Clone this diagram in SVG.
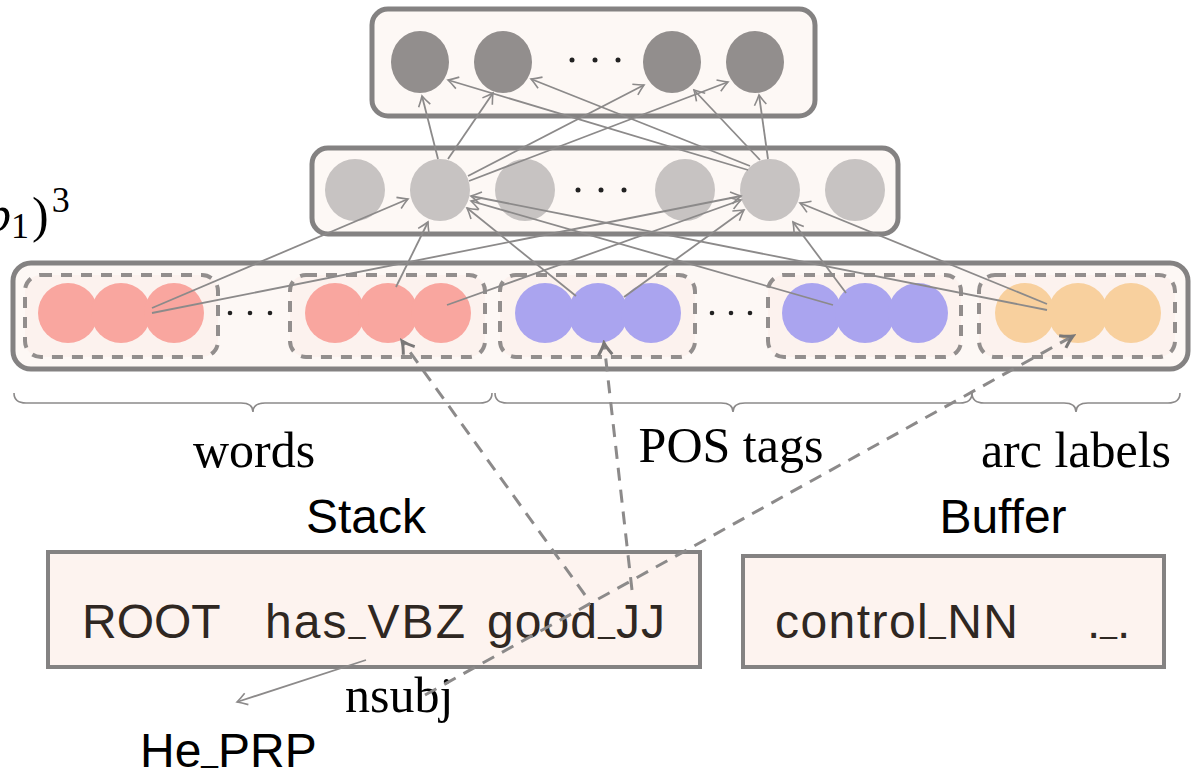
<svg xmlns="http://www.w3.org/2000/svg" width="1194" height="775" viewBox="0 0 1194 775">
<style>
.box{fill:#fdf8f5;stroke:#848282;stroke-width:5}
.grp{fill:#fcf2ee;stroke:#928e8d;stroke-width:4;stroke-dasharray:11 9}
.top{fill:#928e8d}
.mid{fill:#c7c3c2}
.pink{fill:#f9a69f}
.blue{fill:#aaa4ef}
.org{fill:#f8d09e}
.dot{fill:#222}
.ln{stroke:#8c8a8a;stroke-width:1.8;fill:none;marker-end:url(#ah)}
.dl{stroke:#8c8a8a;stroke-width:3;stroke-dasharray:13 9;fill:none;marker-end:url(#dh)}
.brace{stroke:#8c8a8a;stroke-width:1.6;fill:none}
.tm{font-family:'Liberation Serif',serif;font-size:50px;fill:#000}
.sf{font-family:'Liberation Sans',Arial,sans-serif;font-size:48px;fill:#000}
.bx{font-family:'Liberation Sans',Arial,sans-serif;font-size:48px;fill:#2f2722}
.us{font-size:30px}
.sbox{fill:#fdf3ef;stroke:#848282;stroke-width:4}
</style>
<defs>
<marker id="ah" viewBox="0 0 14 14" refX="12" refY="7" markerWidth="14" markerHeight="14" orient="auto" markerUnits="userSpaceOnUse">
<path d="M2,1 Q8,5 12,7 Q8,9 2,13" fill="none" stroke="#8c8a8a" stroke-width="1.6"/>
</marker>
<marker id="dh" viewBox="0 0 18 18" refX="15" refY="9" markerWidth="18" markerHeight="18" orient="auto" markerUnits="userSpaceOnUse">
<path d="M3,2 Q10,7 15,9 Q10,11 3,16" fill="none" stroke="#7a7878" stroke-width="3"/>
</marker>
</defs>

<g id="partial-formula">
<text class="tm" x="-14" y="231"><tspan font-style="italic">b</tspan><tspan font-size="36" dy="7">1</tspan><tspan dx="3" dy="-6">)</tspan><tspan font-size="36" dx="3" dy="-20">3</tspan></text>
</g>

<g id="output-layer">
<rect class="box" x="372" y="9" width="443" height="107" rx="16"/>
<ellipse class="top" cx="420" cy="62" rx="29" ry="31"/>
<ellipse class="top" cx="503" cy="62" rx="29" ry="31"/>
<circle class="dot" cx="572" cy="60" r="2.5"/>
<circle class="dot" cx="595" cy="60" r="2.5"/>
<circle class="dot" cx="618" cy="60" r="2.5"/>
<ellipse class="top" cx="672" cy="62" rx="29" ry="31"/>
<ellipse class="top" cx="755" cy="62" rx="29" ry="31"/>
</g>

<g id="hidden-layer">
<rect class="box" x="312" y="148" width="586" height="86" rx="16"/>
<ellipse class="mid" cx="355" cy="190" rx="30" ry="31"/>
<ellipse class="mid" cx="440" cy="190" rx="30" ry="31"/>
<ellipse class="mid" cx="525" cy="190" rx="30" ry="31"/>
<circle class="dot" cx="578" cy="190" r="2.5"/>
<circle class="dot" cx="601" cy="190" r="2.5"/>
<circle class="dot" cx="624" cy="190" r="2.5"/>
<ellipse class="mid" cx="685" cy="190" rx="30" ry="31"/>
<ellipse class="mid" cx="770" cy="190" rx="30" ry="31"/>
<ellipse class="mid" cx="855" cy="190" rx="30" ry="31"/>
</g>

<g id="input-layer">
<rect class="box" x="13" y="263" width="1175" height="106" rx="18"/>
<g id="words-group-1">
<rect class="grp" x="25" y="275" width="193" height="82" rx="16"/>
<ellipse class="pink" cx="68" cy="313" rx="30" ry="30"/>
<ellipse class="pink" cx="121" cy="313" rx="30" ry="30"/>
<ellipse class="pink" cx="174" cy="313" rx="30" ry="30"/>
</g>
<circle class="dot" cx="230" cy="313" r="2.3"/>
<circle class="dot" cx="250" cy="313" r="2.3"/>
<circle class="dot" cx="270" cy="313" r="2.3"/>
<g id="words-group-2">
<rect class="grp" x="290" y="275" width="195" height="82" rx="16"/>
<ellipse class="pink" cx="335" cy="313" rx="30" ry="30"/>
<ellipse class="pink" cx="388" cy="313" rx="30" ry="30"/>
<ellipse class="pink" cx="441" cy="313" rx="30" ry="30"/>
</g>
<g id="pos-group-1">
<rect class="grp" x="500" y="275" width="195" height="82" rx="16"/>
<ellipse class="blue" cx="545" cy="313" rx="30" ry="30"/>
<ellipse class="blue" cx="598" cy="313" rx="30" ry="30"/>
<ellipse class="blue" cx="651" cy="313" rx="30" ry="30"/>
</g>
<circle class="dot" cx="712" cy="313" r="2.3"/>
<circle class="dot" cx="731" cy="313" r="2.3"/>
<circle class="dot" cx="750" cy="313" r="2.3"/>
<g id="pos-group-2">
<rect class="grp" x="768" y="275" width="193" height="82" rx="16"/>
<ellipse class="blue" cx="812" cy="313" rx="30" ry="30"/>
<ellipse class="blue" cx="865" cy="313" rx="30" ry="30"/>
<ellipse class="blue" cx="918" cy="313" rx="30" ry="30"/>
</g>
<g id="arc-group">
<rect class="grp" x="979" y="275" width="196" height="82" rx="16"/>
<ellipse class="org" cx="1025" cy="313" rx="30" ry="30"/>
<ellipse class="org" cx="1078" cy="313" rx="30" ry="30"/>
<ellipse class="org" cx="1131" cy="313" rx="30" ry="30"/>
</g>
</g>

<g id="braces">
<path class="brace" d="M14,393 Q14,403 26,403 L241,403 Q253,403 253,412 Q253,403 265,403 L480,403 Q492,403 492,393"/>
<path class="brace" d="M495,393 Q495,403 507,403 L721,403 Q733,403 733,412 Q733,403 745,403 L960,403 Q972,403 972,393"/>
<path class="brace" d="M972,393 Q972,403 984,403 L1064,403 Q1076,403 1076,412 Q1076,403 1088,403 L1168,403 Q1180,403 1180,393"/>
</g>

<g id="labels">
<text class="tm" x="254" y="467" text-anchor="middle">words</text>
<text class="tm" x="731" y="462" text-anchor="middle">POS tags</text>
<text class="tm" x="1076" y="467" text-anchor="middle">arc labels</text>
</g>

<g id="stack">
<text class="sf" x="366" y="533" text-anchor="middle">Stack</text>
<rect class="sbox" x="48" y="552" width="652" height="115"/>
<text class="bx" x="82" y="638">ROOT</text>
<text class="bx" x="265" y="638" textLength="200">has<tspan class="us" dy="-5">_</tspan><tspan dy="5">VBZ</tspan></text>
<text class="bx" x="487" y="638" textLength="178">good<tspan class="us" dy="-5">_</tspan><tspan dy="5">JJ</tspan></text>
</g>

<g id="buffer">
<text class="sf" x="1003" y="533" text-anchor="middle">Buffer</text>
<rect class="sbox" x="743" y="556" width="421" height="111"/>
<text class="bx" x="775" y="638" textLength="243">control<tspan class="us" dy="-5">_</tspan><tspan dy="5">NN</tspan></text>
<text class="bx" x="1087" y="638">.<tspan class="us" dy="-5">_</tspan><tspan dy="5">.</tspan></text>
</g>

<g id="he-prp">
<text class="sf" font-size="45" x="140" y="767">He<tspan class="us" dy="-5">_</tspan><tspan dy="5">PRP</tspan></text>
</g>
<g id="nsubj-label">
<text class="tm" x="345" y="712">nsubj</text>
</g>

<g id="connectors">
<line class="ln" x1="438" y1="159" x2="422" y2="96"/>
<line class="ln" x1="448" y1="159" x2="493" y2="93"/>
<line class="ln" x1="468" y1="176" x2="644" y2="85"/>
<line class="ln" x1="469" y1="181" x2="728" y2="82"/>
<line class="ln" x1="748" y1="170" x2="448" y2="80"/>
<line class="ln" x1="750" y1="166" x2="531" y2="79"/>
<line class="ln" x1="760" y1="160" x2="694" y2="90"/>
<line class="ln" x1="768" y1="159" x2="759" y2="95"/>

<line class="ln" x1="152" y1="308" x2="408" y2="199"/>
<line class="ln" x1="152" y1="313" x2="741" y2="196"/>
<line class="ln" x1="396" y1="287" x2="428" y2="222"/>
<line class="ln" x1="447" y1="305" x2="741" y2="200"/>
<line class="ln" x1="576" y1="296" x2="467" y2="208"/>
<line class="ln" x1="624" y1="297" x2="744" y2="210"/>
<line class="ln" x1="833" y1="305" x2="471" y2="201"/>
<line class="ln" x1="1047" y1="310" x2="471" y2="196"/>
<line class="ln" x1="846" y1="293" x2="793" y2="222"/>
<line class="ln" x1="1047" y1="304" x2="800" y2="203"/>

<line class="dl" x1="585" y1="595" x2="402" y2="341"/>
<line class="dl" x1="632" y1="590" x2="604" y2="343"/>
<line class="dl" x1="425" y1="695" x2="1073" y2="336"/>
<line class="ln" x1="366" y1="660" x2="237" y2="702"/>
</g>
</svg>
